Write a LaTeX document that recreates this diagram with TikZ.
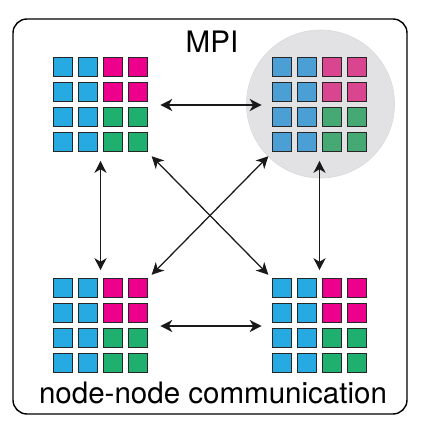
\documentclass[tikz,border=0pt]{standalone}
\usepackage{fontspec}
\setmainfont{TeX Gyre Heros}
\usetikzlibrary{arrows.meta}

\definecolor{cblue}{HTML}{27A9E1}
\definecolor{cpink}{HTML}{EC008C}
\definecolor{cgreen}{HTML}{1FAF6E}
\definecolor{mblue}{HTML}{4C9FD4}
\definecolor{mpink}{HTML}{D9468F}
\definecolor{mgreen}{HTML}{46A872}
\definecolor{haze}{HTML}{E2E2E5}

\begin{document}
\begin{tikzpicture}[
  x=0.025cm,y=-0.025cm,
  >={Stealth[length=8.5pt,width=8.5pt,inset=2.5pt]},
  grid/.style={minimum size=2.375cm,inner sep=0pt},
  cell/.style={draw=black!85,line width=0.8pt,minimum size=0.47cm,inner sep=0pt},
  link/.style={<->,line width=0.9pt,black!90},
  label/.style={font=\fontsize{21}{25}\selectfont,anchor=base}
]
  \useasboundingbox (0,0) rectangle (429,442);
  \draw[line width=1pt,rounded corners=0.35cm] (13,19) rectangle (407,414);

  % the highlighted node
  \node[circle,fill=haze,draw=black!15,minimum size=3.7cm] (halo) at (320.5,104) {};

  \node[grid] (tl) at (100.5,105) {};
  \node[grid] (tr) at (319.5,105) {};
  \node[grid] (bl) at (100.5,326) {};
  \node[grid] (br) at (319.5,326) {};

  % 4x4 cores in every node
  \foreach \g/\b/\p/\q in {tl/cblue/cpink/cgreen,tr/mblue/mpink/mgreen,
                           bl/cblue/cpink/cgreen,br/cblue/cpink/cgreen}{
    \foreach \r in {0,...,3}{
      \foreach \c in {0,...,3}{
        \ifnum\c<2 \def\col{\b}\else\ifnum\r<2 \def\col{\p}\else\def\col{\q}\fi\fi
        \path ([shift={(\c*25+10,\r*25+10)}]\g.north west) node[cell,fill=\col] {};
      }
    }
  }

  \node[label] (title) at (212,52) {MPI};
  \node[label] (caption) at (213,403) {node-node communication};

  \draw[link,shorten <=0.3cm,shorten >=0.25cm] (tl) -- (tr);
  \draw[link,shorten <=0.3cm,shorten >=0.25cm] (bl) -- (br);
  \draw[link,shorten <=0.2cm,shorten >=0.2cm] (tl) -- (bl);
  \draw[link,shorten <=0.2cm,shorten >=0.2cm] (tr) -- (br);
  \draw[link,shorten <=0.12cm,shorten >=0.12cm] (tl.south east) -- (br.north west);
  \draw[link,shorten <=0.12cm,shorten >=0.12cm] (tr.south west) -- (bl.north east);
\end{tikzpicture}
\end{document}
